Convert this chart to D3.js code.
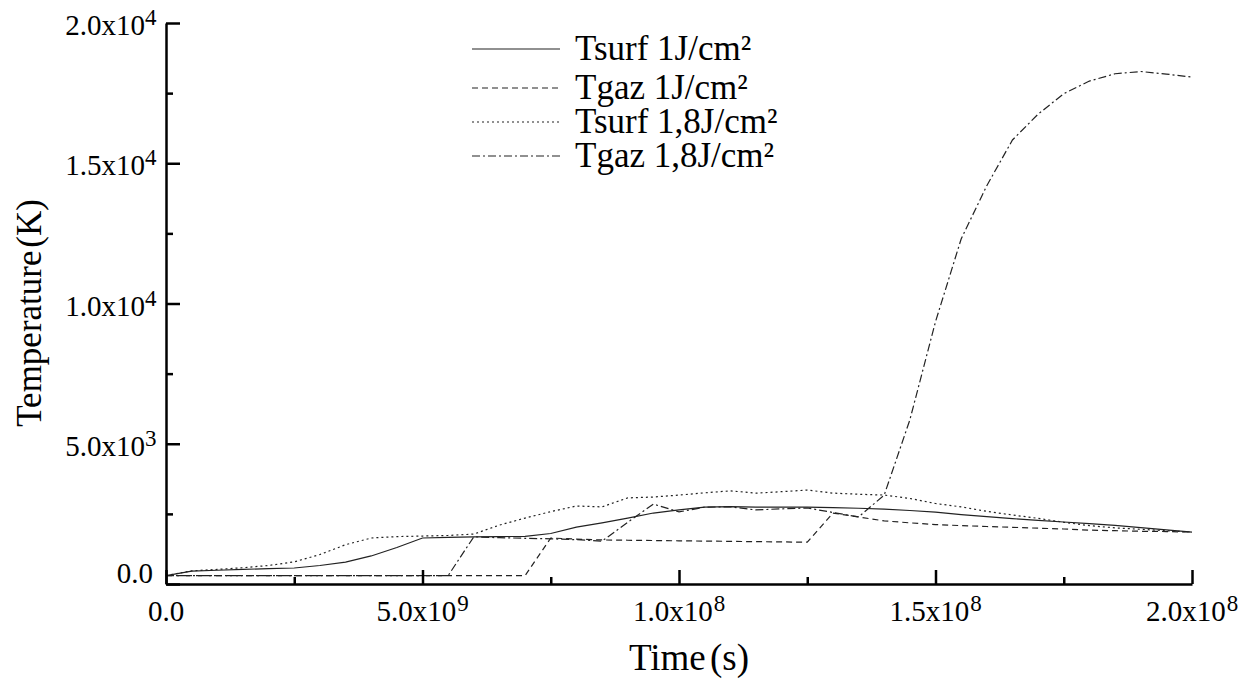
<!DOCTYPE html>
<html lang="en">
<head>
<meta charset="utf-8">
<title>Temperature vs time</title>
<script src="https://d3js.org/d3.v7.min.js"></script>
<style>
  body { margin: 0; background: #fff; }
  svg text { font-family: "Liberation Serif", "Times New Roman", serif; fill: #000; }
</style>
</head>
<body>
<script>
// time in units of 1e-9 s, every 0.5
var times = [0,0.5,1,1.5,2,2.5,3,3.5,4,4.5,5,5.5,6,6.5,7,7.5,8,8.5,9,9.5,10,10.5,11,11.5,12,12.5,13,13.5,14,14.5,15,15.5,16,16.5,17,17.5,18,18.5,19,19.5,20];

var tsurf1 = [300,460,490,520,550,570,660,780,1000,1300,1640,1660,1680,1690,1700,1800,2030,2180,2350,2530,2640,2740,2760,2740,2740,2740,2720,2700,2670,2620,2560,2470,2400,2330,2270,2210,2150,2090,2010,1930,1850];
var tgaz1 = [300,300,300,300,300,300,300,300,300,300,300,300,300,300,300,1640,1600,1570,1560,1550,1540,1530,1520,1510,1500,1490,2530,2390,2250,2180,2120,2080,2050,2020,1990,1960,1920,1900,1880,1870,1850];
var tsurf18 = [300,470,520,580,660,790,1050,1400,1640,1690,1710,1730,1780,2100,2350,2580,2780,2750,3070,3100,3170,3250,3320,3240,3290,3350,3240,3200,3170,3050,2870,2750,2590,2460,2340,2200,2080,2000,1950,1900,1850];
var tgaz18 = [300,300,300,300,300,300,300,300,300,300,300,300,1680,1650,1630,1610,1580,1530,2200,2850,2570,2740,2750,2640,2680,2710,2550,2390,3170,5850,9350,12300,14200,15830,16750,17480,17930,18190,18270,18180,18070];

var seriesNames = ["Tsurf 1J/cm\u00b2", "Tgaz 1J/cm\u00b2", "Tsurf 1,8J/cm\u00b2", "Tgaz 1,8J/cm\u00b2"];

var xMajor = [0, 5e-9, 1e-8, 1.5e-8, 2e-8];
var xMinor = [2.5e-9, 7.5e-9, 1.25e-8, 1.75e-8];
var xTickLabels = [["0.0", ""], ["5.0x10", "9"], ["1.0x10", "8"], ["1.5x10", "8"], ["2.0x10", "8"]];

var yMajor = [0, 5000, 10000, 15000, 20000];
var yMinor = [2500, 7500, 12500, 17500];
var yTickLabels = [["0.0", ""], ["5.0x10", "3"], ["1.0x10", "4"], ["1.5x10", "4"], ["2.0x10", "4"]];

var W = 1253, H = 681;
var svg = d3.select("body").append("svg").attr("width", W).attr("height", H);

var x = d3.scaleLinear().domain([0, 2e-8]).range([166, 1192]);
var y = d3.scaleLinear().domain([0, 20000]).range([584, 23]);

var dashes = [null, "6,4", "2,3", "8,3,2,3"];
var allSeries = [tsurf1, tgaz1, tsurf18, tgaz18];

var line = d3.line()
  .x(function(d, i) { return x(times[i] * 1e-9); })
  .y(function(d) { return y(d); });

// curves
svg.append("g").selectAll("path")
  .data(allSeries)
  .enter().append("path")
  .attr("d", line)
  .attr("fill", "none")
  .attr("stroke", "#222")
  .attr("stroke-width", 1.2)
  .attr("stroke-dasharray", function(d, i) { return dashes[i]; });

// x axis
var xAxisG = svg.append("g").attr("transform", "translate(0," + y(0) + ")");
xAxisG.call(d3.axisBottom(x).tickValues(xMajor).tickSizeInner(-14).tickSizeOuter(0).tickFormat(""));
xAxisG.call(function(g) {
  g.append("g").call(d3.axisBottom(x).tickValues(xMinor).tickSizeInner(-7).tickSizeOuter(0).tickFormat(""))
   .select(".domain").remove();
});
xAxisG.selectAll("line").attr("stroke", "#000").attr("stroke-width", 2.5);
xAxisG.select(".domain").attr("stroke", "#000").attr("stroke-width", 2.5);

var xl = svg.append("g").selectAll("text")
  .data(xMajor)
  .enter().append("text")
  .attr("x", function(d) { return x(d); })
  .attr("y", 621)
  .attr("text-anchor", "middle")
  .attr("font-size", 29);
xl.append("tspan").text(function(d, i) { return xTickLabels[i][0]; });
xl.append("tspan")
  .attr("font-size", 23)
  .attr("dx", 1)
  .attr("dy", -10)
  .text(function(d, i) { return xTickLabels[i][1]; });

// y axis
var yAxisG = svg.append("g").attr("transform", "translate(" + x(0) + ",0)");
yAxisG.call(d3.axisLeft(y).tickValues(yMajor).tickSizeInner(-14).tickSizeOuter(0).tickFormat(""));
yAxisG.call(function(g) {
  g.append("g").call(d3.axisLeft(y).tickValues(yMinor).tickSizeInner(-7).tickSizeOuter(0).tickFormat(""))
   .select(".domain").remove();
});
yAxisG.selectAll("line").attr("stroke", "#000").attr("stroke-width", 2.5);
yAxisG.select(".domain").attr("stroke", "#000").attr("stroke-width", 2.5);

svg.append("g").selectAll("text")
  .data(yMajor)
  .enter().append("text")
  .attr("x", function(d, i) { return i === 0 ? 153 : 145; })
  .attr("y", function(d, i) { return i === 0 ? y(d) - 1 : y(d) + 12; })
  .attr("text-anchor", "end")
  .attr("font-size", 29)
  .text(function(d, i) { return yTickLabels[i][0]; });

svg.append("g").selectAll("text")
  .data(yMajor.slice(1))
  .enter().append("text")
  .attr("x", 145)
  .attr("y", function(d) { return y(d) + 2; })
  .attr("font-size", 23)
  .text(function(d, i) { return yTickLabels[i + 1][1]; });

// axis titles
svg.append("text")
  .attr("x", 689)
  .attr("y", 670)
  .attr("text-anchor", "middle")
  .attr("font-size", 37)
  .attr("word-spacing", -5)
  .text("Time (s)");

svg.append("text")
  .attr("transform", "translate(41,313) rotate(-90)")
  .attr("text-anchor", "middle")
  .attr("font-size", 35)
  .attr("word-spacing", -6)
  .text("Temperature (K)");

// legend
var rowY = [49, 88, 122, 156];
var legend = svg.append("g").selectAll("g")
  .data(seriesNames)
  .enter().append("g")
  .attr("transform", function(d, i) { return "translate(0," + rowY[i] + ")"; });

legend.append("line")
  .attr("x1", 472).attr("x2", 560)
  .attr("stroke", "#222")
  .attr("stroke-width", 1.2)
  .attr("stroke-dasharray", function(d, i) { return dashes[i]; });

legend.append("text")
  .attr("x", 575)
  .attr("y", 11)
  .attr("font-size", 35)
  .text(function(d) { return d; });
</script>
</body>
</html>
